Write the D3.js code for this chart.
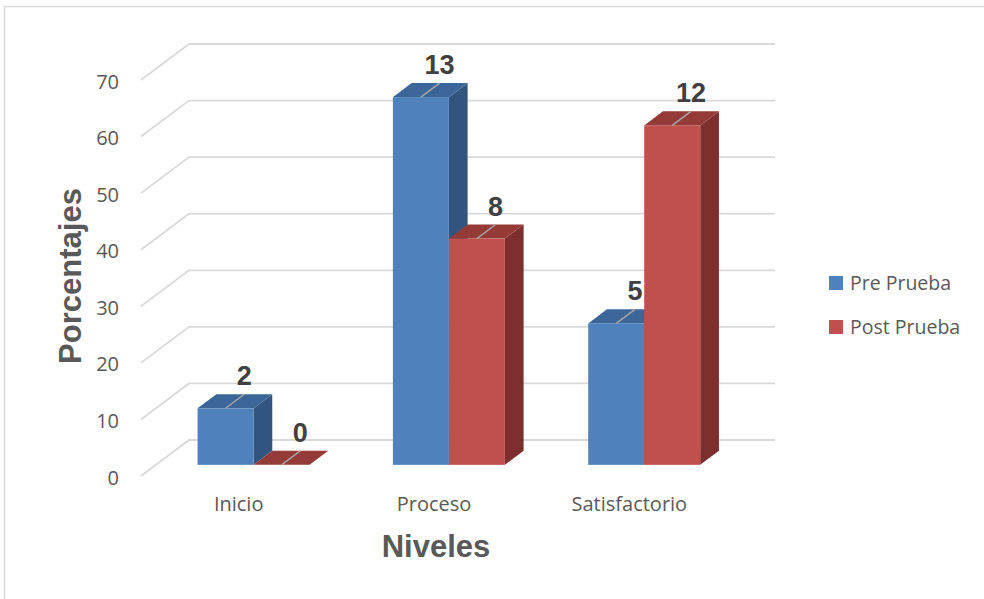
<!DOCTYPE html>
<html>
<head>
<meta charset="utf-8">
<script src="https://cdn.jsdelivr.net/npm/d3@7"></script>
<style>
  body { margin: 0; background: #fff; }
  svg { display: block; }
  .axis text { font-family: "Open Sans", sans-serif; fill: #595959; }
</style>
</head>
<body>
<svg width="984" height="599"></svg>
<script>
// data (percent of students, with counts as labels)
var categories = ["Inicio", "Proceso", "Satisfactorio"];
var series = ["Pre Prueba", "Post Prueba"];
var prePrueba = [10, 65, 25];
var postPrueba = [0, 40, 60];
var preCounts = [2, 13, 5];
var postCounts = [0, 8, 12];
var yTicks = [0, 10, 20, 30, 40, 50, 60, 70];

var svg = d3.select("svg");

// frame
svg.append("rect")
    .attr("x", 4.5).attr("y", 6.5)
    .attr("width", 1100).attr("height", 700)
    .attr("fill", "none")
    .attr("stroke", "#d9d9d9")
    .attr("stroke-width", 1.5);

// front plane of the 3d box, and the depth vector to the back wall
var left = 141, right = 727, depth = { x: 48, y: -36 };
var barZ0 = 0.31, barZ1 = 0.70;   // bars sit in the middle of the floor depth

var x = d3.scaleBand().domain(categories).range([left, right]);
var x1 = d3.scaleBand().domain(series).range([0, x.bandwidth()])
    .paddingInner(0).paddingOuter(0.744);
var y = d3.scaleLinear().domain([0, 70]).range([476, 80]);

var z = d3.scaleOrdinal().domain(series).range(["#4f81bd", "#c0504d"]);
var topCol = { "Pre Prueba": "#3d6698", "Post Prueba": "#943a37" };
var sideCol = { "Pre Prueba": "#31557f", "Post Prueba": "#7c2f2d" };

// back wall gridlines with the diagonal on the side wall
var grid = svg.append("g");
yTicks.forEach(function (t) {
    grid.append("polyline")
        .attr("points", [
            [left, y(t)],
            [left + depth.x, y(t) + depth.y],
            [right + depth.x, y(t) + depth.y]
        ].map(function (p) { return p.join(","); }).join(" "))
        .attr("fill", "none")
        .attr("stroke", "#d9d9d9")
        .attr("stroke-width", 1.8);
});

// y axis labels
svg.append("g")
    .attr("class", "axis")
    .attr("transform", "translate(" + left + ",0)")
    .call(d3.axisLeft(y).tickValues(yTicks).tickSize(0).tickPadding(22))
    .call(function (g) { g.select(".domain").remove(); })
    .selectAll("text").attr("font-size", 20).attr("dy", "0.4em");

// category labels
svg.append("g")
    .attr("class", "axis")
    .attr("transform", "translate(0," + y(0) + ")")
    .call(d3.axisBottom(x).tickSize(0).tickPadding(21))
    .call(function (g) { g.select(".domain").remove(); })
    .selectAll("text").attr("font-size", 20);

// bars
var data = [];
categories.forEach(function (c, i) {
    data.push({ cat: c, key: series[0], value: prePrueba[i], count: preCounts[i] });
    data.push({ cat: c, key: series[1], value: postPrueba[i], count: postCounts[i] });
});

var dx0 = depth.x * barZ0, dy0 = depth.y * barZ0;
var bdx = depth.x * (barZ1 - barZ0), bdy = depth.y * (barZ1 - barZ0);
var bw = x1.bandwidth();

function pts(a) { return a.map(function (p) { return p.join(","); }).join(" "); }

var bars = svg.append("g").selectAll("g")
    .data(data)
    .enter().append("g");

bars.each(function (d) {
    var g = d3.select(this);
    var x0 = x(d.cat) + x1(d.key) + dx0;
    var yb = y(0) + dy0, yt = y(d.value) + dy0;
    g.append("polygon")
        .attr("points", pts([[x0 + bw, yt], [x0 + bw + bdx, yt + bdy], [x0 + bw + bdx, yb + bdy], [x0 + bw, yb]]))
        .attr("fill", sideCol[d.key]);
    g.append("polygon")
        .attr("points", pts([[x0, yt], [x0 + bdx, yt + bdy], [x0 + bw + bdx, yt + bdy], [x0 + bw, yt]]))
        .attr("fill", topCol[d.key]);
    g.append("rect")
        .attr("x", x0).attr("y", yt)
        .attr("width", bw).attr("height", yb - yt)
        .attr("fill", z(d.key));
    // leader across the top face
    g.append("line")
        .attr("x1", x0 + bw / 2).attr("y1", yt)
        .attr("x2", x0 + bw / 2 + bdx).attr("y2", yt + bdy)
        .attr("stroke", "#a6a6a6").attr("stroke-width", 1.5);
    g.append("text")
        .attr("x", x0 + bw / 2 + bdx)
        .attr("y", yt + bdy - 9)
        .attr("text-anchor", "middle")
        .attr("font-family", "Liberation Sans, Arial, sans-serif")
        .attr("font-weight", "bold")
        .attr("font-size", 27)
        .attr("fill", "#404040")
        .text(d.count);
});

// axis titles
svg.append("text")
    .attr("transform", "translate(81,276) rotate(-90)")
    .attr("text-anchor", "middle")
    .attr("font-family", "Liberation Sans, Arial, sans-serif")
    .attr("font-weight", "bold")
    .attr("font-size", 31)
    .attr("fill", "#595959")
    .text("Porcentajes");

svg.append("text")
    .attr("x", 436).attr("y", 557)
    .attr("text-anchor", "middle")
    .attr("font-family", "Liberation Sans, Arial, sans-serif")
    .attr("font-weight", "bold")
    .attr("font-size", 31)
    .attr("fill", "#595959")
    .text("Niveles");

// legend
var legend = svg.append("g")
    .selectAll("g")
    .data(series)
    .enter().append("g")
    .attr("transform", function (d, i) { return "translate(829," + (276 + i * 44) + ")"; });

legend.append("rect")
    .attr("width", 14).attr("height", 14)
    .attr("fill", z);

legend.append("text")
    .attr("x", 21).attr("y", 14)
    .attr("font-family", "Open Sans, sans-serif")
    .attr("font-size", 19.5)
    .attr("fill", "#595959")
    .text(function (d) { return d; });
</script>
</body>
</html>
